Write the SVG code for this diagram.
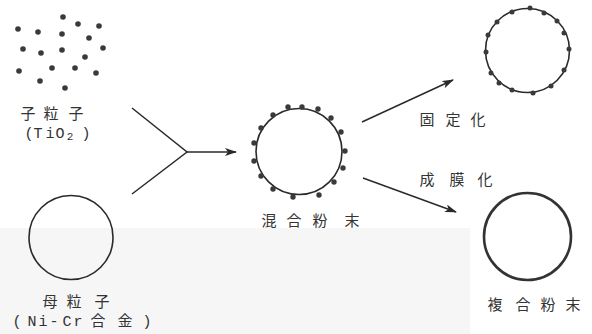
<svg xmlns="http://www.w3.org/2000/svg" width="592" height="334" viewBox="0 0 592 334">
<style>
.bg{fill:#ffffff}
.shade{fill:#f6f6f6}
.ring{fill:none;stroke:#2a2a2a;stroke-width:1.6}
.thick{fill:none;stroke:#333;stroke-width:2.6}
.dot{fill:#3a3a3a}
.conn{fill:none;stroke:#2a2a2a;stroke-width:1.5}
.lbl{font-family:"Noto Sans CJK JP","Noto Sans",sans-serif;font-size:15px;fill:#333;text-anchor:middle}
.lat{font-family:"Liberation Mono","DejaVu Sans Mono",monospace;font-size:15px;fill:#333;text-anchor:middle}
</style>
<defs>
<marker id="ah" viewBox="0 0 12 8" refX="11" refY="4" markerWidth="12" markerHeight="8" markerUnits="userSpaceOnUse" orient="auto">
<path d="M0,0 L12,4 L0,8 L3,4 Z" fill="#2a2a2a"/>
</marker>
</defs>
<rect class="bg" x="0" y="0" width="592" height="334"/>
<rect class="shade" x="0" y="228" width="470" height="106"/>

<g id="child-particles">
<circle class="dot" cx="18" cy="29" r="2.8"/>
<circle class="dot" cx="38" cy="32" r="2.8"/>
<circle class="dot" cx="63" cy="17" r="2.8"/>
<circle class="dot" cx="78" cy="24" r="2.8"/>
<circle class="dot" cx="99" cy="26" r="2.8"/>
<circle class="dot" cx="62" cy="34" r="2.8"/>
<circle class="dot" cx="89" cy="38" r="2.8"/>
<circle class="dot" cx="23" cy="49" r="2.8"/>
<circle class="dot" cx="41" cy="53" r="2.8"/>
<circle class="dot" cx="62" cy="50" r="2.8"/>
<circle class="dot" cx="103" cy="48" r="2.8"/>
<circle class="dot" cx="85" cy="57" r="2.8"/>
<circle class="dot" cx="19" cy="71" r="2.8"/>
<circle class="dot" cx="52" cy="68" r="2.8"/>
<circle class="dot" cx="75" cy="68" r="2.8"/>
<circle class="dot" cx="96" cy="73" r="2.8"/>
<circle class="dot" cx="40" cy="81" r="2.8"/>
<circle class="dot" cx="65" cy="88" r="2.8"/>
<text class="lbl" x="28 51 76" y="119">子粒子</text>
<text class="lat" y="138"><tspan x="29">(</tspan><tspan x="38">T</tspan><tspan x="50">i</tspan><tspan x="60">O</tspan><tspan x="70" font-size="11" dy="2">2</tspan><tspan x="86" dy="-2">)</tspan></text>
</g>

<g id="mother-particle">
<circle class="ring" cx="71" cy="237.5" r="42"/>
<text class="lbl" x="50 74 102" y="307">母粒子</text>
<text class="lat" y="326"><tspan x="17">(</tspan><tspan x="32">N</tspan><tspan x="43">i</tspan><tspan x="54">-</tspan><tspan x="67">C</tspan><tspan x="78">r</tspan><tspan class="lbl" x="98">合</tspan><tspan class="lbl" x="125">金</tspan><tspan x="147">)</tspan></text>
</g>

<g id="mixed-powder">
<circle class="ring" cx="299" cy="151.5" r="43"/>
<circle class="dot" cx="288" cy="107" r="2.7"/>
<circle class="dot" cx="302" cy="107" r="2.7"/>
<circle class="dot" cx="318" cy="109" r="2.7"/>
<circle class="dot" cx="331" cy="118" r="2.7"/>
<circle class="dot" cx="341" cy="132" r="2.7"/>
<circle class="dot" cx="345" cy="151" r="2.7"/>
<circle class="dot" cx="343" cy="168" r="2.7"/>
<circle class="dot" cx="334" cy="182" r="2.7"/>
<circle class="dot" cx="319" cy="195" r="2.7"/>
<circle class="dot" cx="293" cy="197" r="2.7"/>
<circle class="dot" cx="273" cy="189" r="2.7"/>
<circle class="dot" cx="261" cy="176" r="2.7"/>
<circle class="dot" cx="254" cy="161" r="2.7"/>
<circle class="dot" cx="254" cy="143" r="2.7"/>
<circle class="dot" cx="261" cy="128" r="2.7"/>
<circle class="dot" cx="273" cy="115" r="2.7"/>
<text class="lbl" x="269 294 320 352" y="226">混合粉末</text>
</g>

<g id="fixed">
<circle class="ring" cx="527.5" cy="50.5" r="42"/>
<circle class="dot" cx="530" cy="8" r="2.5"/>
<circle class="dot" cx="544" cy="13" r="2.5"/>
<circle class="dot" cx="557" cy="21" r="2.5"/>
<circle class="dot" cx="564" cy="33" r="2.5"/>
<circle class="dot" cx="569" cy="49" r="2.5"/>
<circle class="dot" cx="564" cy="70" r="2.5"/>
<circle class="dot" cx="551" cy="86" r="2.5"/>
<circle class="dot" cx="533" cy="93" r="2.5"/>
<circle class="dot" cx="512" cy="90" r="2.5"/>
<circle class="dot" cx="499" cy="83" r="2.5"/>
<circle class="dot" cx="491" cy="73" r="2.5"/>
<circle class="dot" cx="486" cy="52" r="2.5"/>
<circle class="dot" cx="488" cy="35" r="2.5"/>
<circle class="dot" cx="497" cy="22" r="2.5"/>
<circle class="dot" cx="512" cy="12" r="2.5"/>
</g>

<g id="composite-powder">
<circle class="thick" cx="527.5" cy="236.5" r="43.5"/>
<text class="lbl" x="495 523 548 573" y="310">複合粉末</text>
</g>

<g id="connectors">
<polyline class="conn" points="132,108 187,152 132,194"/>
<line class="conn" x1="187" y1="152" x2="236" y2="152" marker-end="url(#ah)"/>
<line class="conn" x1="362" y1="122" x2="453" y2="80" marker-end="url(#ah)"/>
<line class="conn" x1="363" y1="178" x2="456" y2="212" marker-end="url(#ah)"/>
<text class="lbl" x="427 453 478" y="125">固定化</text>
<text class="lbl" x="427 457 485" y="185">成膜化</text>
</g>
</svg>
